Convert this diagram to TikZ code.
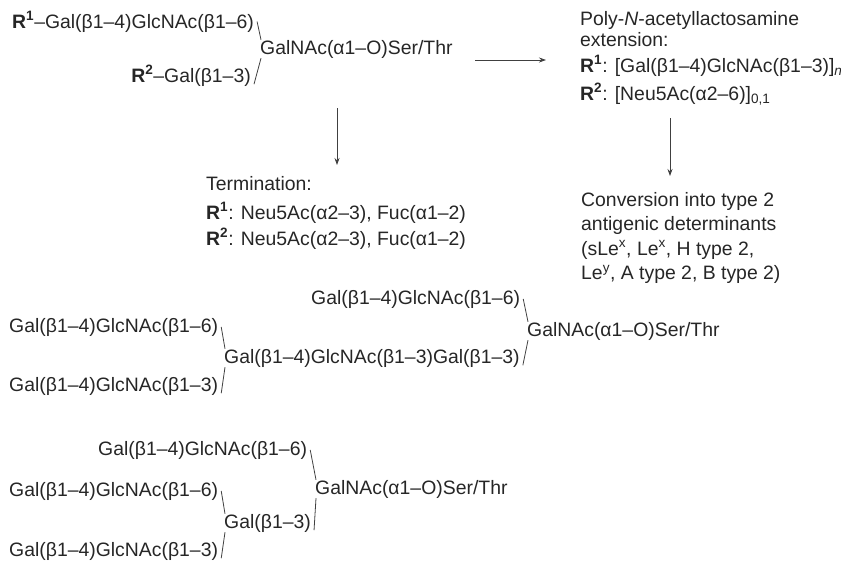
\documentclass[tikz,border=0pt]{standalone}
\usepackage{fontspec}
\setmainfont{Liberation Sans}
\usetikzlibrary{arrows.meta,positioning,calc}
\newcommand{\Ra}{\textbf{R\textsuperscript{1}}}
\newcommand{\Rb}{\textbf{R\textsuperscript{2}}}
\newcommand{\lacn}[1]{Gal(β1–4)GlcNAc(β1–#1)}
\newcommand{\galnac}{GalNAc(α1–O)Ser/Thr}

\begin{document}
\begin{tikzpicture}[x=1pt, y=-1pt, font=\fontsize{19.4}{21}\selectfont, >={Stealth[length=7pt,width=5pt]},
  txt/.style={inner sep=0pt, anchor=base west, text=black!85},
  blk/.style={inner sep=0pt, anchor=north west, align=left, text=black!85},
  link/.style={draw=black!75, line width=0.8pt},
  arr/.style={link, ->}]
\useasboundingbox (0,0) rectangle (841,566);
% core structure
\node[txt] (r1)   at (12,28)  {\Ra–\lacn{6}};
\node[txt] (gal)  at (260,54) {\galnac};
\node[txt, anchor=base east] (r2) at (251,82) {\Rb–Gal(β1–3)};
\draw[link] ([xshift=3pt]r1.east) -- ([xshift=1pt]gal.north west);
\draw[link] ([xshift=1pt]gal.south west) -- ([xshift=3pt,yshift=2pt]r2.south east);
% extension and termination
\node[blk] (ext)  at (580,11) {Poly-\textit{N}-acetyllactosamine\\ extension:\\[5pt]
  \Ra: [\lacn{3}]\textsubscript{\textit{n}}\\[6pt] \Rb: [Neu5Ac(α2–6)]\textsubscript{0,1}};
\node[blk] (term) at (206,176) {Termination:\\[8pt] \Ra: Neu5Ac(α2–3), Fuc(α1–2)\\[4pt]
  \Rb: Neu5Ac(α2–3), Fuc(α1–2)};
\node[blk] (conv) at (581,192) {Conversion into type 2\\[3.5pt] antigenic determinants\\[3.5pt]
  (sLe\textsuperscript{x}, Le\textsuperscript{x}, H type 2,\\[3.5pt] Le\textsuperscript{y}, A type 2, B type 2)};
\coordinate (h1) at (475,60);
\coordinate (d1) at (337,108);
\coordinate (d2) at (670,118);
\draw[arr] (h1) -- ($(h1 -| ext.west)+(-34,0)$);
\draw[arr] (d1) -- ($(d1 |- term.north)+(0,-11)$);
\draw[arr] (d2) -- ($(d2 |- conv.north)+(0,-16)$);
% branched chain, first example
\node[txt] (mtop) at (311,304) {\lacn{6}};
\node[txt] (mgal) at (527,336) {\galnac};
\node[txt] (ml1)  at (9,332)   {\lacn{6}};
\node[txt] (mmid) at (224,363) {\lacn{3}Gal(β1–3)};
\node[txt] (ml2)  at (9,391)   {\lacn{3}};
\draw[link] ([xshift=3pt]mtop.east) -- ([xshift=1pt]mgal.north west);
\draw[link] ([xshift=1pt]mgal.south west) -- ([xshift=3pt,yshift=2pt]mmid.south east);
\draw[link] ([xshift=3pt]ml1.east) -- ([xshift=1pt]mmid.north west);
\draw[link] ([xshift=1pt]mmid.south west) -- ([xshift=3pt,yshift=2pt]ml2.south east);
% branched chain, second example
\node[txt] (btop) at (98,455)  {\lacn{6}};
\node[txt] (bl1)  at (9,496)   {\lacn{6}};
\node[txt] (bgal) at (315,494) {\galnac};
\node[txt] (bmid) at (224,528) {Gal(β1–3)};
\node[txt] (bl2)  at (9,556)   {\lacn{3}};
\draw[link] ([xshift=3pt]btop.east) -- ([xshift=1pt]bgal.north west);
\draw[link] ([xshift=1pt]bgal.south west) -- ([xshift=3pt,yshift=2pt]bmid.south east);
\draw[link] ([xshift=3pt]bl1.east) -- ([xshift=1pt]bmid.north west);
\draw[link] ([xshift=1pt]bmid.south west) -- ([xshift=3pt,yshift=2pt]bl2.south east);
\end{tikzpicture}
\end{document}
